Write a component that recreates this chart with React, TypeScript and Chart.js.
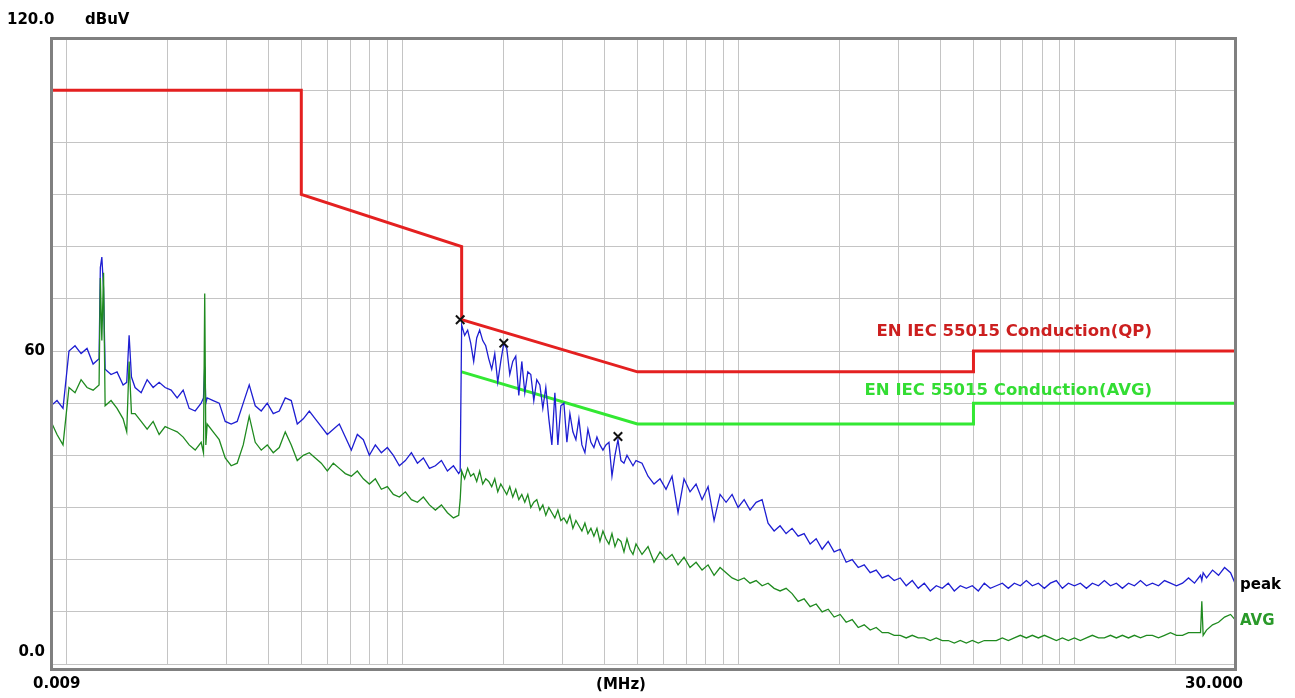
import { useEffect, useRef } from "react";
import { Chart, registerables } from "chart.js";

Chart.register(...registerables);

// Frequency grid (MHz) shared by the two measured traces
const FREQ = [
  0.009, 0.009378, 0.009772, 0.01018, 0.01061, 0.01106, 0.01152, 0.01201, 0.01251, 0.01262,
  0.01275, 0.0129, 0.01304, 0.01358, 0.01415, 0.01475, 0.01512, 0.01537, 0.01562, 0.01601,
  0.01669, 0.01739, 0.01812, 0.01888, 0.01967, 0.0205, 0.02136, 0.02226, 0.02319, 0.02417,
  0.02518, 0.02558, 0.0258, 0.026, 0.02624, 0.02734, 0.02849, 0.02969, 0.03093, 0.03223,
  0.03359, 0.035, 0.03647, 0.038, 0.0396, 0.04126, 0.04299, 0.0448, 0.04668, 0.04864,
  0.05069, 0.05282, 0.05503, 0.05734, 0.05975, 0.06226, 0.06488, 0.0676, 0.07044, 0.0734,
  0.07648, 0.0797, 0.08304, 0.08653, 0.09017, 0.09395, 0.0979, 0.102, 0.1063, 0.1108,
  0.1154, 0.1203, 0.1253, 0.1306, 0.1361, 0.1418, 0.147, 0.1485,
  0.15, 0.1531, 0.1563, 0.1596, 0.1629, 0.1663, 0.1697, 0.1733, 0.1769, 0.1806,
  0.1843, 0.1882, 0.1921, 0.1961, 0.2002, 0.2043, 0.2086, 0.2129, 0.2173, 0.2219,
  0.2265, 0.2312, 0.236, 0.2409, 0.2459, 0.251, 0.2563, 0.2616, 0.267, 0.2726,
  0.2783, 0.2841, 0.29, 0.296, 0.3022, 0.3085, 0.3149, 0.3214, 0.3281, 0.3349,
  0.3419, 0.349, 0.3563, 0.3637, 0.3712, 0.379, 0.3869, 0.3949, 0.4031, 0.4115,
  0.4201, 0.4288, 0.4377, 0.4468, 0.4561, 0.4656, 0.4753, 0.4852, 0.4953,
  0.5161, 0.5378, 0.5604, 0.5839, 0.6084, 0.634, 0.6606, 0.6883, 0.7172, 0.7474,
  0.7788, 0.8115, 0.8456, 0.8811, 0.9181, 0.9567, 0.9969, 1.039, 1.082, 1.128,
  1.175, 1.224, 1.276, 1.329, 1.385, 1.443, 1.504, 1.567, 1.633, 1.702,
  1.773, 1.848, 1.925, 2.006, 2.09, 2.178, 2.27, 2.365, 2.464, 2.568,
  2.676, 2.788, 2.905, 3.027, 3.154, 3.287, 3.425, 3.569, 3.719, 3.875,
  4.038, 4.207, 4.384, 4.568, 4.76, 4.96, 5.168, 5.385, 5.611, 5.847,
  6.093, 6.349, 6.615, 6.893, 7.183, 7.484, 7.799, 8.126, 8.467, 8.823,
  9.194, 9.58, 9.982, 10.4, 10.84, 11.29, 11.77, 12.26, 12.78, 13.31,
  13.87, 14.46, 15.06, 15.7, 16.36, 17.04, 17.76, 18.51, 19.28, 20.09,
  20.94, 21.82, 22.73, 23.69, 23.9, 24.12, 24.68, 25.72, 26.8, 27.93,
  29.1, 30.0,
];

// Peak detector trace (dBuV)
const PEAK = [
  49.5, 50.5, 49.0, 60.0, 61.0, 59.5, 60.5, 57.5, 58.5, 76.0,
  78.0, 72.0, 56.5, 55.5, 56.0, 53.5, 54.0, 63.0, 55.0, 53.0,
  52.0, 54.5, 53.0, 54.0, 53.0, 52.5, 51.0, 52.5, 49.0, 48.5,
  50.0, 51.0, 57.0, 50.0, 51.0, 50.5, 50.0, 46.5, 46.0, 46.5,
  50.0, 53.5, 49.5, 48.5, 50.0, 48.0, 48.5, 51.0, 50.5, 46.0,
  47.0, 48.5, 47.0, 45.5, 44.0, 45.0, 46.0, 43.5, 41.0, 44.0,
  43.0, 40.0, 42.0, 40.5, 41.5, 40.0, 38.0, 39.0, 40.5, 38.5,
  39.5, 37.5, 38.0, 39.0, 37.0, 38.0, 36.5, 37.0,
  65.0, 63.0, 64.0, 61.5, 58.0, 62.5, 64.0, 62.0, 61.0, 58.5,
  56.5, 59.5, 54.0, 58.0, 61.5, 60.5, 55.5, 58.0, 59.0, 51.5,
  58.0, 52.0, 56.0, 55.5, 50.5, 54.5, 53.5, 49.0, 53.0, 47.0,
  42.0, 52.0, 42.0, 49.5, 50.0, 42.5, 48.0, 44.5, 43.0, 47.0,
  42.0, 40.5, 45.0, 42.5, 41.5, 43.5, 42.0, 41.0, 42.0, 42.5,
  36.0, 40.0, 43.0, 39.0, 38.5, 40.0, 39.0, 38.0, 39.0,
  38.5, 36.0, 34.5, 35.5, 33.5, 36.0, 29.0, 35.5, 33.0, 34.5,
  31.5, 34.0, 27.5, 32.5, 31.0, 32.5, 30.0, 31.5, 29.5, 31.0,
  31.5, 27.0, 25.5, 26.5, 25.0, 26.0, 24.5, 25.0, 23.0, 24.0,
  22.0, 23.5, 21.5, 22.0, 19.5, 20.0, 18.5, 19.0, 17.5, 18.0,
  16.5, 17.0, 16.0, 16.5, 15.0, 16.0, 14.5, 15.5, 14.0, 15.0,
  14.5, 15.5, 14.0, 15.0, 14.5, 15.0, 14.0, 15.5, 14.5, 15.0,
  15.5, 14.5, 15.5, 15.0, 16.0, 15.0, 15.5, 14.5, 15.5, 16.0,
  14.5, 15.5, 15.0, 15.5, 14.5, 15.5, 15.0, 16.0, 15.0, 15.5,
  14.5, 15.5, 15.0, 16.0, 15.0, 15.5, 15.0, 16.0, 15.5, 15.0,
  15.5, 16.5, 15.5, 17.0, 16.0, 17.5, 16.5, 18.0, 17.0, 18.5,
  17.5, 15.5,
];

// Average detector trace (dBuV)
const AVG = [
  46.5, 44.0, 42.0, 53.0, 52.0, 54.5, 53.0, 52.5, 53.5, 74.0,
  62.0, 75.0, 49.5, 50.5, 49.0, 47.0, 44.5, 58.0, 48.0, 48.0,
  46.5, 45.0, 46.5, 44.0, 45.5, 45.0, 44.5, 43.5, 42.0, 41.0,
  42.5, 40.5, 71.0, 42.0, 46.0, 44.5, 43.0, 39.5, 38.0, 38.5,
  42.0, 47.5, 42.5, 41.0, 42.0, 40.5, 41.5, 44.5, 42.0, 39.0,
  40.0, 40.5, 39.5, 38.5, 37.0, 38.5, 37.5, 36.5, 36.0, 37.0,
  35.5, 34.5, 35.5, 33.5, 34.0, 32.5, 32.0, 33.0, 31.5, 31.0,
  32.0, 30.5, 29.5, 30.5, 29.0, 28.0, 28.5, 31.5,
  37.0, 35.5, 37.5, 36.0, 36.5, 35.0, 37.0, 34.5, 35.5, 35.0,
  34.0, 35.5, 33.0, 34.5, 33.5, 32.5, 34.0, 32.0, 33.5, 31.5,
  32.5, 31.0, 32.5, 30.0, 31.0, 31.5, 29.5, 30.5, 28.5, 30.0,
  29.0, 28.0, 29.5, 27.5, 28.0, 27.0, 28.5, 26.0, 27.5, 26.5,
  25.5, 27.0, 25.0, 26.0, 24.5, 26.0, 23.5, 25.5, 24.0, 23.0,
  25.0, 22.5, 24.0, 23.5, 21.5, 24.0, 22.0, 21.0, 23.0,
  21.0, 22.5, 19.5, 21.5, 20.0, 21.0, 19.0, 20.5, 18.5, 19.5,
  18.0, 19.0, 17.0, 18.5, 17.5, 16.5, 16.0, 16.5, 15.5, 16.0,
  15.0, 15.5, 14.5, 14.0, 14.5, 13.5, 12.0, 12.5, 11.0, 11.5,
  10.0, 10.5, 9.0, 9.5, 8.0, 8.5, 7.0, 7.5, 6.5, 7.0,
  6.0, 6.0, 5.5, 5.5, 5.0, 5.5, 5.0, 5.0, 4.5, 5.0,
  4.5, 4.5, 4.0, 4.5, 4.0, 4.5, 4.0, 4.5, 4.5, 4.5,
  5.0, 4.5, 5.0, 5.5, 5.0, 5.5, 5.0, 5.5, 5.0, 4.5,
  5.0, 4.5, 5.0, 4.5, 5.0, 5.5, 5.0, 5.0, 5.5, 5.0,
  5.5, 5.0, 5.5, 5.0, 5.5, 5.5, 5.0, 5.5, 6.0, 5.5,
  5.5, 6.0, 6.0, 6.0, 12.0, 5.5, 6.5, 7.5, 8.0, 9.0,
  9.5, 8.5,
];

// Limit lines (EN IEC 55015)
const QP_LIMIT_FREQ = [0.009, 0.05, 0.05, 0.15, 0.15, 0.5, 5, 5, 30];
const QP_LIMIT_LEVEL = [110, 110, 90, 80, 66, 56, 56, 60, 60];
const AVG_LIMIT_FREQ = [0.15, 0.5, 5, 5, 30];
const AVG_LIMIT_LEVEL = [56, 46, 46, 50, 50];

// Marked peaks
const MARKER_FREQ = [0.1485, 0.2002, 0.4377];
const MARKER_LEVEL = [66.0, 61.5, 43.6];

// Axis grid
const X_GRID = [
  0.009, 0.01, 0.02, 0.03, 0.04, 0.05, 0.06, 0.07, 0.08, 0.09,
  0.1, 0.2, 0.3, 0.4, 0.5, 0.6, 0.7, 0.8, 0.9,
  1, 2, 3, 4, 5, 6, 7, 8, 9, 10, 20, 30,
];
const Y_MIN = 0;
const Y_MAX = 120;
const Y_STEP = 10;

const Y_LABELS = [
  { value: 120, text: "120.0" },
  { value: 60, text: "60" },
  { value: 0, text: "0.0" },
];
const X_LABELS = ["0.009", "(MHz)", "30.000"];
const UNIT_LABEL = "dBuV";
const QP_LABEL = "EN IEC 55015 Conduction(QP)";
const AVG_LABEL = "EN IEC 55015 Conduction(AVG)";

const FONT = 'bold 15px "DejaVu Sans"';
const LIMIT_FONT = 'bold 16.5px "DejaVu Sans"';

const pts = (xs: number[], ys: number[]) => xs.map((x, i) => ({ x, y: ys[i] }));

const labelPlugin = {
  id: "emiLabels",
  afterDraw(chart: any) {
    const ctx = chart.ctx as CanvasRenderingContext2D;
    const { left, right, top, bottom } = chart.chartArea;
    const ys = chart.scales.y;
    ctx.save();
    // frame
    ctx.strokeStyle = "#808080";
    ctx.lineWidth = 3;
    ctx.strokeRect(left + 0.5, top + 0.5, right - left, bottom - top + 5);

    ctx.font = FONT;
    ctx.textBaseline = "middle";
    ctx.fillStyle = "#000";
    // y labels
    ctx.textAlign = "left";
    ctx.fillText(Y_LABELS[0].text, 7, 20);
    ctx.fillText(UNIT_LABEL, 85, 20);
    ctx.textAlign = "right";
    ctx.fillText(Y_LABELS[1].text, left - 6, ys.getPixelForValue(Y_LABELS[1].value));
    ctx.fillText(Y_LABELS[2].text, left - 6, ys.getPixelForValue(Y_LABELS[2].value) - 12);
    // x labels
    ctx.textAlign = "left";
    ctx.fillText(X_LABELS[0], left - 18, bottom + 20);
    ctx.textAlign = "center";
    ctx.fillText(X_LABELS[1], 621, bottom + 21);
    ctx.textAlign = "right";
    ctx.fillText(X_LABELS[2], right + 8, bottom + 20);
    // trace labels
    ctx.textAlign = "left";
    ctx.fillStyle = "#000";
    ctx.fillText("peak", right + 5, 585);
    ctx.fillStyle = "#2a9a2a";
    ctx.fillText("AVG", right + 5, 621);
    // limit labels
    ctx.font = LIMIT_FONT;
    ctx.textAlign = "right";
    ctx.fillStyle = "#cc1f1f";
    ctx.fillText(QP_LABEL, 1152, 332);
    ctx.fillStyle = "#33dd33";
    ctx.fillText(AVG_LABEL, 1152, 391);
    ctx.restore();
  },
};

export default function App() {
  const ref = useRef<HTMLCanvasElement>(null);
  useEffect(() => {
    if (!ref.current) return;
    const chart = new Chart(ref.current, {
      type: "line",
      data: {
        datasets: [
          {
            label: "markers",
            data: pts(MARKER_FREQ, MARKER_LEVEL),
            showLine: false,
            pointStyle: "crossRot",
            pointRadius: 6,
            pointBorderWidth: 2,
            pointBorderColor: "#111",
            borderColor: "#111",
            order: 0,
          },
          {
            label: "AVG",
            data: pts(FREQ, AVG),
            borderColor: "#1f8a1f",
            borderWidth: 1.3,
            pointRadius: 0,
            tension: 0,
            order: 1,
          },
          {
            label: "peak",
            data: pts(FREQ, PEAK),
            borderColor: "#1e1ed2",
            borderWidth: 1.3,
            pointRadius: 0,
            tension: 0,
            order: 2,
          },
          {
            label: "AVG limit",
            data: pts(AVG_LIMIT_FREQ, AVG_LIMIT_LEVEL),
            borderColor: "#33e833",
            borderWidth: 3,
            pointRadius: 0,
            tension: 0,
            order: 3,
          },
          {
            label: "QP limit",
            data: pts(QP_LIMIT_FREQ, QP_LIMIT_LEVEL),
            borderColor: "#e42020",
            borderWidth: 3,
            pointRadius: 0,
            tension: 0,
            order: 4,
          },
        ],
      },
      options: {
        responsive: false,
        animation: false,
        devicePixelRatio: 1,
        layout: { padding: { left: 51, right: 60, top: 38, bottom: 34 } },
        plugins: { legend: { display: false }, tooltip: { enabled: false } },
        events: [],
        scales: {
          x: {
            type: "logarithmic",
            min: 0.009,
            max: 30,
            afterBuildTicks: (scale: any) => {
              scale.ticks = X_GRID.map((v) => ({ value: v }));
            },
            ticks: { display: false },
            grid: { color: "#c4c4c4", drawTicks: false, lineWidth: 1 },
            border: { display: false },
          },
          y: {
            type: "linear",
            min: Y_MIN,
            max: Y_MAX,
            ticks: { display: false, stepSize: Y_STEP },
            grid: { color: "#c4c4c4", drawTicks: false, lineWidth: 1 },
            border: { display: false },
          },
        },
      },
      plugins: [labelPlugin],
    });
    return () => chart.destroy();
  }, []);
  return (
    <div style={{ position: "fixed", left: 0, top: 0, width: 1295, height: 698, background: "#fff" }}>
      <canvas ref={ref} width={1295} height={698} style={{ display: "block" }} />
    </div>
  );
}
